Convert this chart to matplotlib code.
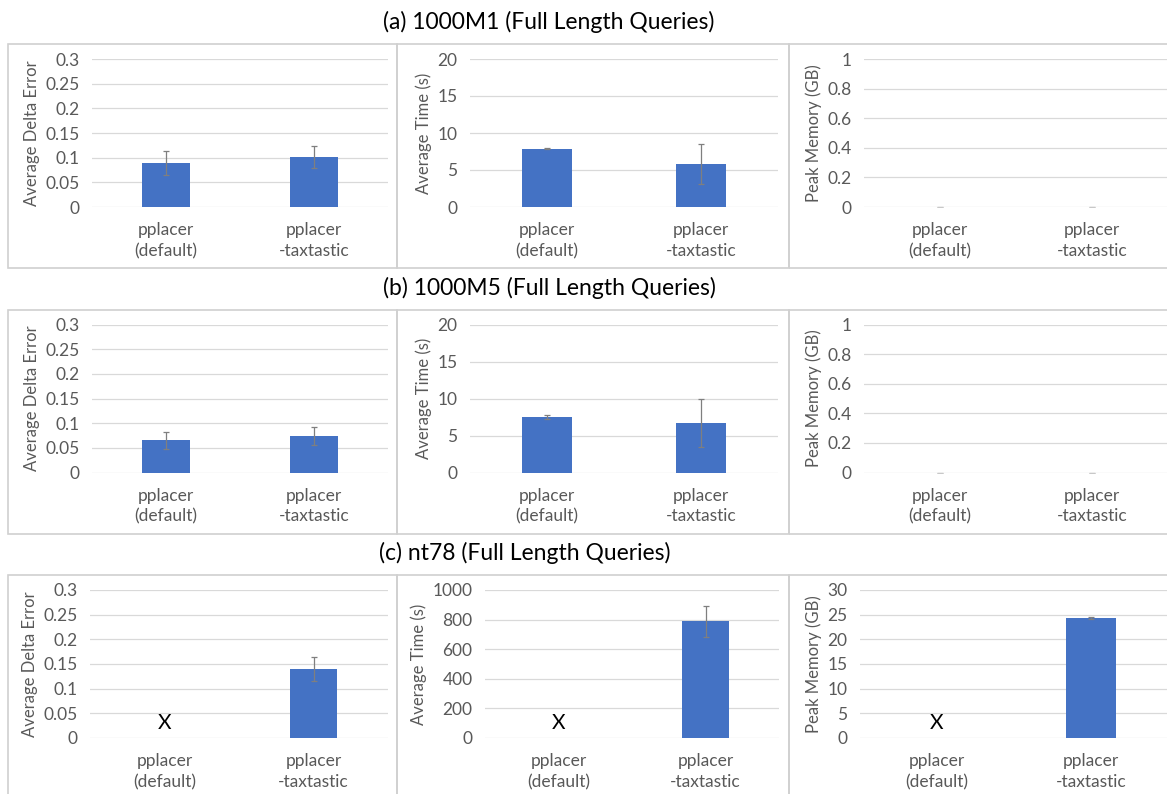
import matplotlib
matplotlib.use('Agg')
import matplotlib.pyplot as plt
import matplotlib.transforms as mtransforms
from matplotlib.patches import Rectangle
import numpy as np

plt.rcParams['font.family'] = ['Lato', 'DejaVu Sans']

categories = ['pplacer\n(default)', 'pplacer\n-taxtastic']
row_titles = ['(a) 1000M1 (Full Length Queries)',
              '(b) 1000M5 (Full Length Queries)',
              '(c) nt78 (Full Length Queries)']
ylabels = ['Average Delta Error', 'Average Time (s)', 'Peak Memory (GB)']

# 1000M1
err_1000M1 = [0.089, 0.102]
err_1000M1_sd = [0.024, 0.022]
time_1000M1 = [7.9, 5.8]
time_1000M1_sd = [0.1, 2.7]
mem_1000M1 = [0.0, 0.0]
mem_1000M1_sd = [0.0, 0.0]

# 1000M5
err_1000M5 = [0.065, 0.074]
err_1000M5_sd = [0.018, 0.019]
time_1000M5 = [7.5, 6.7]
time_1000M5_sd = [0.25, 3.25]
mem_1000M5 = [0.0, 0.0]
mem_1000M5_sd = [0.0, 0.0]

# nt78 (pplacer default failed -> X)
err_nt78 = [np.nan, 0.140]
err_nt78_sd = [0.0, 0.025]
time_nt78 = [np.nan, 790]
time_nt78_sd = [0.0, 105]
mem_nt78 = [np.nan, 24.3]
mem_nt78_sd = [0.0, 0.2]

rows = [
    [(err_1000M1, err_1000M1_sd), (time_1000M1, time_1000M1_sd), (mem_1000M1, mem_1000M1_sd)],
    [(err_1000M5, err_1000M5_sd), (time_1000M5, time_1000M5_sd), (mem_1000M5, mem_1000M5_sd)],
    [(err_nt78, err_nt78_sd), (time_nt78, time_nt78_sd), (mem_nt78, mem_nt78_sd)],
]
err_ticks = ['0', '0.05', '0.1', '0.15', '0.2', '0.25', '0.3']
mem_ticks = ['0', '0.2', '0.4', '0.6', '0.8', '1']
ylims = [
    [(0.3, 0.05, err_ticks), (20, 5, None), (1, 0.2, mem_ticks)],
    [(0.3, 0.05, err_ticks), (20, 5, None), (1, 0.2, mem_ticks)],
    [(0.3, 0.05, err_ticks), (1000, 200, None), (30, 5, None)],
]

W, H = 1167, 794
fig = plt.figure(figsize=(W / 100, H / 100), dpi=100)

bar_color = '#4472C4'
grid_color = '#d9d9d9'
text_gray = '#595959'

# pixel layout of the panels (per row)
plot_x = [
    [(92, 388), (470, 778), (864, 1168)],
    [(92, 388), (470, 778), (864, 1168)],
    [(90, 388), (485, 779), (860, 1168)],
]
box_x = [(8, 397), (397, 789), (789, 1180)]
title_x = [549, 549, 525]
row_step = 265.5

for r in range(3):
    dy = r * row_step
    fig.text(title_x[r] / W, 1 - (22 + dy) / H, row_titles[r], ha='center', va='center',
             fontsize=16.5, color='black')
    for c in range(3):
        bx0, bx1 = box_x[c]
        fig.patches.append(Rectangle((bx0 / W, 1 - (268 + dy) / H), (bx1 - bx0) / W, 224 / H,
                                     transform=fig.transFigure, fill=False,
                                     edgecolor='#d0d0d0', linewidth=1.2))
        px0, px1 = plot_x[r][c]
        ax = fig.add_axes([px0 / W, 1 - (207 + dy) / H, (px1 - px0) / W, 148 / H])
        vals, sds = rows[r][c]
        top, step, labels = ylims[r][c]
        x = np.arange(len(categories))
        ax.bar(x, vals, width=0.32, color=bar_color, zorder=3)
        ok = ~np.isnan(vals)
        zero = np.array(sds) == 0
        # real error bars
        sel = ok & ~zero
        ax.errorbar(x[sel], np.array(vals)[sel], yerr=np.array(sds)[sel], fmt='none',
                    ecolor='#7f7f7f', elinewidth=0.9, capsize=2.5, capthick=0.9, zorder=4)
        # zero-width error bars only leave a faint cap
        sel = ok & zero
        ax.errorbar(x[sel], np.array(vals)[sel], yerr=np.array(sds)[sel], fmt='none',
                    ecolor='#c8c8c8', elinewidth=0.9, capsize=2.5, capthick=0.9, zorder=4)
        trans = mtransforms.blended_transform_factory(ax.transData, ax.transAxes)
        for i in x[~ok]:
            ax.text(i, 0.1, 'X', transform=trans, ha='center', va='center',
                    fontsize=15, color='black')
        ax.set_xlim(-0.5, 1.5)
        ax.set_ylim(0, top)
        ticks = np.arange(0, top + step / 2, step)
        ax.set_yticks(ticks)
        if labels is not None:
            ax.set_yticklabels(labels)
        else:
            ax.set_yticklabels([f'{t:g}' for t in ticks])
        ax.set_xticks(x)
        ax.set_xticklabels(categories, linespacing=1.35, multialignment='center')
        ax.grid(axis='y', color=grid_color, linewidth=0.9, zorder=0)
        for s in ax.spines.values():
            s.set_visible(False)
        ax.tick_params(length=0, colors=text_gray, labelsize=12.5)
        ax.tick_params(axis='y', pad=9)
        ax.tick_params(axis='x', pad=11)
        ax.set_ylabel(ylabels[c], color=text_gray, fontsize=12, labelpad=4)
        ax.set_facecolor('none')

plt.savefig('out.png', dpi=100)
